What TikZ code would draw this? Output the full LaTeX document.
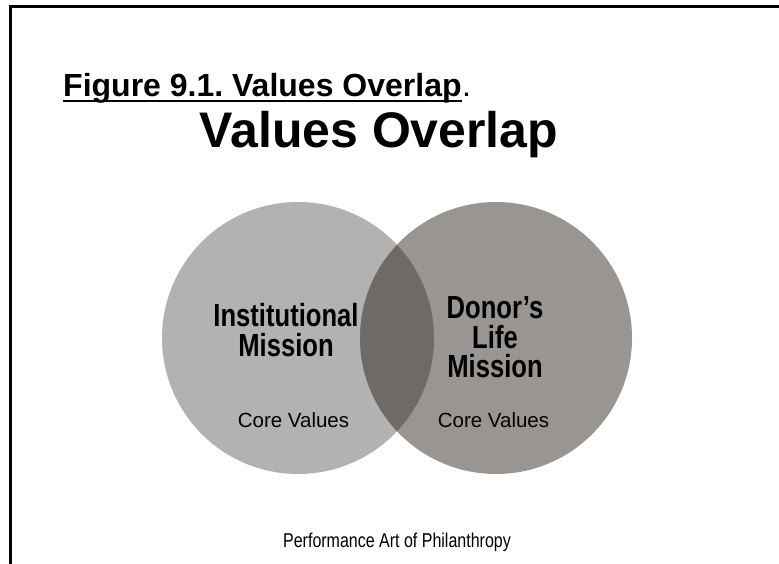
\documentclass[tikz,border=0pt]{standalone}
\usepackage{fontspec}
\setmainfont{Liberation Sans}
\newfontfamily\narrowfont[FakeStretch=0.8]{Liberation Sans}
\definecolor{leftgray}{HTML}{B3B2B0}
\definecolor{rightgray}{HTML}{999592}
\definecolor{overlapgray}{HTML}{6E6A67}
\tikzset{
  txt/.style={inner sep=0pt, text=black},
  bigtxt/.style={txt, align=center, font=\narrowfont\bfseries\fontsize{32}{29.5}\selectfont},
  smalltxt/.style={txt, font=\fontsize{20.5}{24}\selectfont},
  disc/.style={circle, inner sep=0pt, minimum size=272pt, draw=none}
}
\frenchspacing
\begin{document}
\begin{tikzpicture}[x=1pt,y=-1pt]
\useasboundingbox (0,0) rectangle (779,564);
\fill[white] (0,0) rectangle (779,564);
% frame (only top and left edges visible)
\draw[line width=2.7pt] (779,6.5) -- (10.5,6.5) -- (10.5,564);
% caption
\node[txt, anchor=base west, font=\bfseries\fontsize{32}{38}\selectfont] (caption) at (63,97) {Figure 9.1. Values Overlap};
\node[txt, anchor=base west, font=\fontsize{32}{38}\selectfont] (capdot) at (caption.base east) {.};
\draw[line width=2.3pt] ([yshift=-4pt]caption.base west) -- ([yshift=-4pt]caption.base east);
% title
\node[txt, anchor=base, font=\bfseries\fontsize{50}{60}\selectfont] (title) at (379,148) {Values Overlap};
% circles
\node[disc, fill=leftgray] (L) at (298,338) {};
\node[disc, fill=rightgray] (R) at (496,338) {};
\begin{scope}
  \clip (L.center) circle (136pt);
  \fill[overlapgray] (R.center) circle (136pt);
\end{scope}
% texts
\node[bigtxt] (inst) at (286,330) {Institutional\\Mission};
\node[bigtxt] (donor) at (495,337.5) {Donor’s\\Life\\Mission};
\node[smalltxt, anchor=base] (cvL) at (293.5,427) {Core Values};
\node[smalltxt, anchor=base] (cvR) at (493.5,427) {Core Values};
\node[txt, anchor=base, font=\narrowfont\fontsize{20}{24}\selectfont] (perf) at (397,547) {Performance Art of Philanthropy};
\end{tikzpicture}
\end{document}
